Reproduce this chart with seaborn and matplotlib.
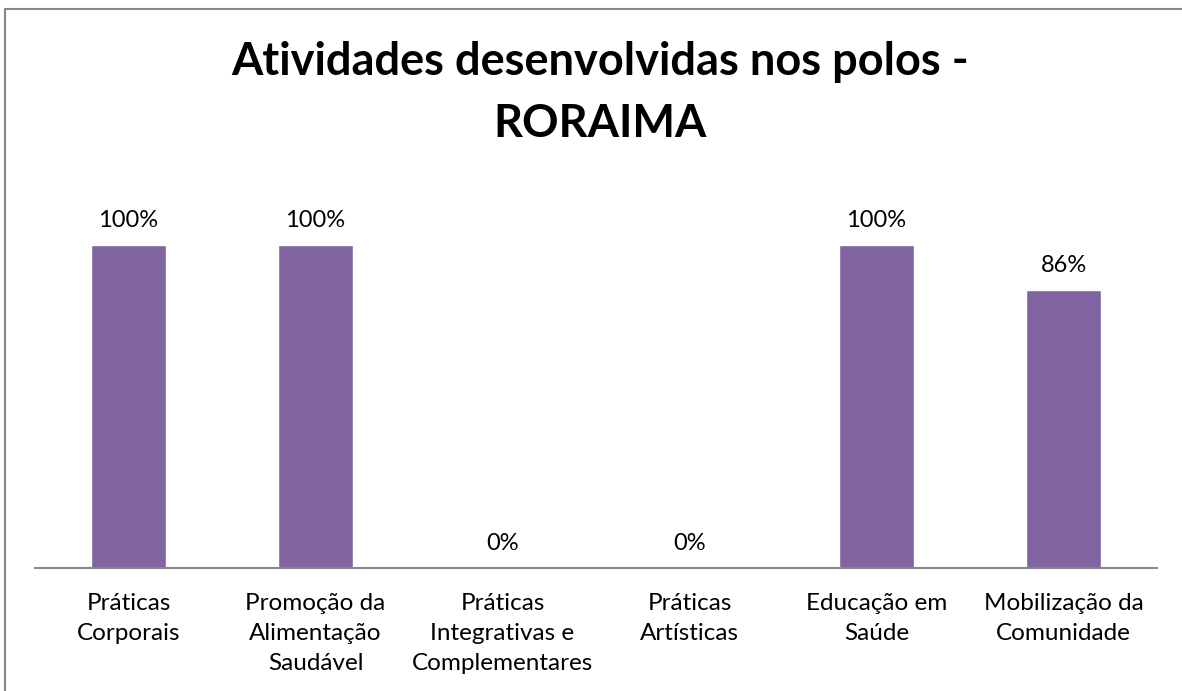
import matplotlib
matplotlib.use("Agg")
import matplotlib.pyplot as plt
import seaborn as sns
import pandas as pd
from matplotlib.lines import Line2D

categories = ["Práticas\nCorporais", "Promoção da\nAlimentação\nSaudável",
              "Práticas\nIntegrativas e\nComplementares", "Práticas\nArtísticas",
              "Educação em\nSaúde", "Mobilização da\nComunidade"]
values = [1.00, 1.00, 0.00, 0.00, 1.00, 0.86]
value_labels = ["100%", "100%", "0%", "0%", "100%", "86%"]
title_lines = ["Atividades desenvolvidas nos polos -", "RORAIMA"]

sns.set_theme(style="white")
plt.rcParams['font.family'] = ['Lato', 'DejaVu Sans']

W, H = 1182, 691
fig = plt.figure(figsize=(W/100, H/100), dpi=100)
fig.patch.set_facecolor("white")

ax = fig.add_axes([35/W, (H-568)/H, 1122/W, 323/H])
df = pd.DataFrame({"cat": categories, "val": values})
sns.barplot(data=df, x="cat", y="val", color="#8064A2", width=0.4, saturation=1, ax=ax)
ax.set_ylim(0, 1.0)
ax.set_xlim(-0.5, len(categories)-0.5)
ax.set_xlabel("")
ax.set_ylabel("")
ax.set_yticks([])
for s in ["top", "right", "left"]:
    ax.spines[s].set_visible(False)
ax.spines["bottom"].set_color("#868686")
ax.spines["bottom"].set_linewidth(1.5)
ax.patch.set_alpha(0)
ax.tick_params(axis="x", length=0, pad=18)
ax.set_xticks(range(len(categories)))
ax.set_xticklabels(categories, fontsize=17.5, color="black", linespacing=1.53)

for i, (v, lab) in enumerate(zip(values, value_labels)):
    ax.annotate(lab, xy=(i, v), xytext=(0, 13), textcoords="offset points",
                ha="center", va="baseline", fontsize=17, color="black",
                annotation_clip=False)

fig.text(600/W, 1-75/H, title_lines[0], ha="center", va="baseline",
         fontsize=32.5, fontweight="bold", color="black")
fig.text(600/W, 1-137/H, title_lines[1], ha="center", va="baseline",
         fontsize=32.5, fontweight="bold", color="black")

# chart border (left and top visible)
fig.add_artist(Line2D([5/W, 5/W], [0, 1-9/H], transform=fig.transFigure, color="#878787", lw=1.5))
fig.add_artist(Line2D([5/W, 1], [1-9/H, 1-9/H], transform=fig.transFigure, color="#878787", lw=1.5))

fig.savefig("out.png", dpi=100)
